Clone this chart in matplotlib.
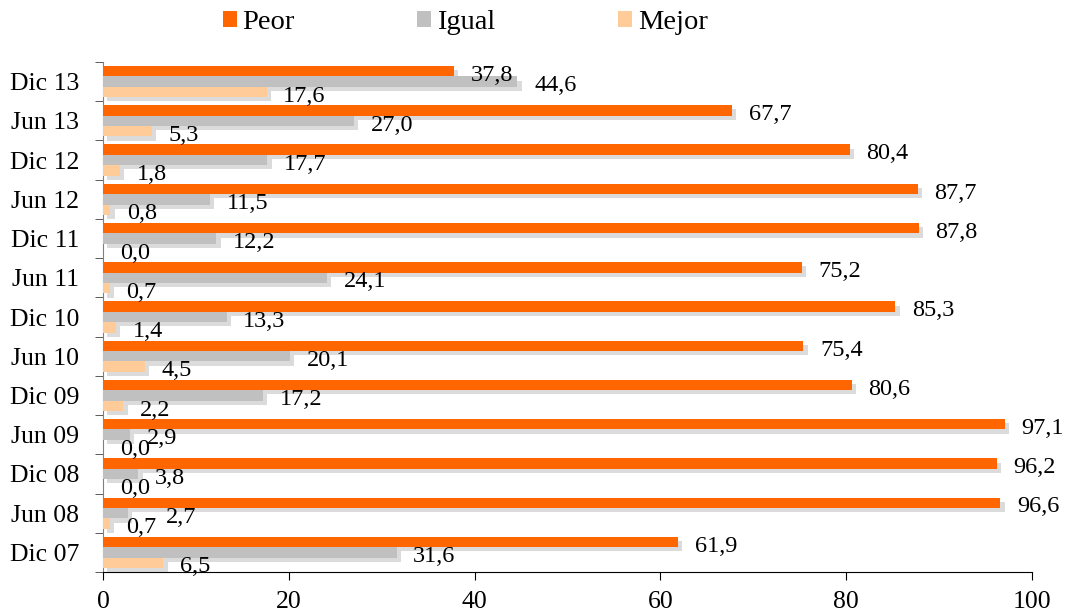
import matplotlib
matplotlib.use('Agg')
import matplotlib.pyplot as plt
import matplotlib.patheffects as pe
import numpy as np
from matplotlib.patches import Patch

# categories from bottom to top
categories = ['Dic 07', 'Jun 08', 'Dic 08', 'Jun 09', 'Dic 09', 'Jun 10', 'Dic 10',
              'Jun 11', 'Dic 11', 'Jun 12', 'Dic 12', 'Jun 13', 'Dic 13']
peor = [61.9, 96.6, 96.2, 97.1, 80.6, 75.4, 85.3, 75.2, 87.8, 87.7, 80.4, 67.7, 37.8]
igual = [31.6, 2.7, 3.8, 2.9, 17.2, 20.1, 13.3, 24.1, 12.2, 11.5, 17.7, 27.0, 44.6]
mejor = [6.5, 0.7, 0.0, 0.0, 2.2, 4.5, 1.4, 0.7, 0.0, 0.8, 1.8, 5.3, 17.6]

series = [('Peor', peor, '#FF6600'), ('Igual', igual, '#C0C0C0'), ('Mejor', mejor, '#FFCC99')]

# excel pushed this label sideways so it doesn't sit on the one below
label_nudge = {('Jun 08', 'Igual'): 15}

serif = 'Liberation Serif'

fig = plt.figure(figsize=(10.69, 6.14), dpi=100)
ax = fig.add_axes([0.0964, 0.0684, 0.8690, 0.8306])

y = np.arange(len(categories))
h = 0.265
# soft drop shadow like the excel bars
shadow = [pe.SimplePatchShadow(offset=(3, -3), shadow_rgbFace='#9a9a9a', alpha=0.35), pe.Normal()]

for i, (name, vals, col) in enumerate(series):
    pos = y + h * (1 - i)
    bars = ax.barh(pos, vals, height=h, color=col, edgecolor='none', zorder=3)
    for b in bars:
        b.set_path_effects(shadow)
    for cat, p, v in zip(categories, pos, vals):
        dx = 12 + label_nudge.get((cat, name), 0)
        ax.annotate(f'{v:.1f}'.replace('.', ','), xy=(v, p), xytext=(dx, -3),
                    textcoords='offset points', va='center', ha='left',
                    fontsize=17.5, family=serif, zorder=5)

ax.set_xlim(0, 100)
ax.set_ylim(-0.5, len(categories) - 0.5)
ax.set_xticks(np.arange(0, 101, 20))
ax.set_yticks(y)
ax.set_yticklabels(categories)
ax.set_yticks(np.arange(-0.5, len(categories), 1), minor=True)
ax.tick_params(axis='y', which='major', length=0, pad=17)
ax.tick_params(axis='y', which='minor', length=6, direction='out', color='#404040')
ax.tick_params(axis='x', length=6, direction='out', pad=8)
for lab in ax.get_xticklabels() + ax.get_yticklabels():
    lab.set_family(serif)
    lab.set_fontsize(18.5)

for s in ['top', 'right']:
    ax.spines[s].set_visible(False)
ax.spines['left'].set_color('#808080')
ax.spines['bottom'].set_color('black')

handles = [Patch(facecolor=c, edgecolor='none', label=n) for n, _, c in series]
fig.legend(handles=handles, loc='center', bbox_to_anchor=(0.435, 0.963), ncol=3,
           frameon=False, prop={'family': serif, 'size': 20.5}, handlelength=0.5,
           handleheight=0.5, handletextpad=0.2, columnspacing=4.3)

fig.savefig('out.png', dpi=100)
